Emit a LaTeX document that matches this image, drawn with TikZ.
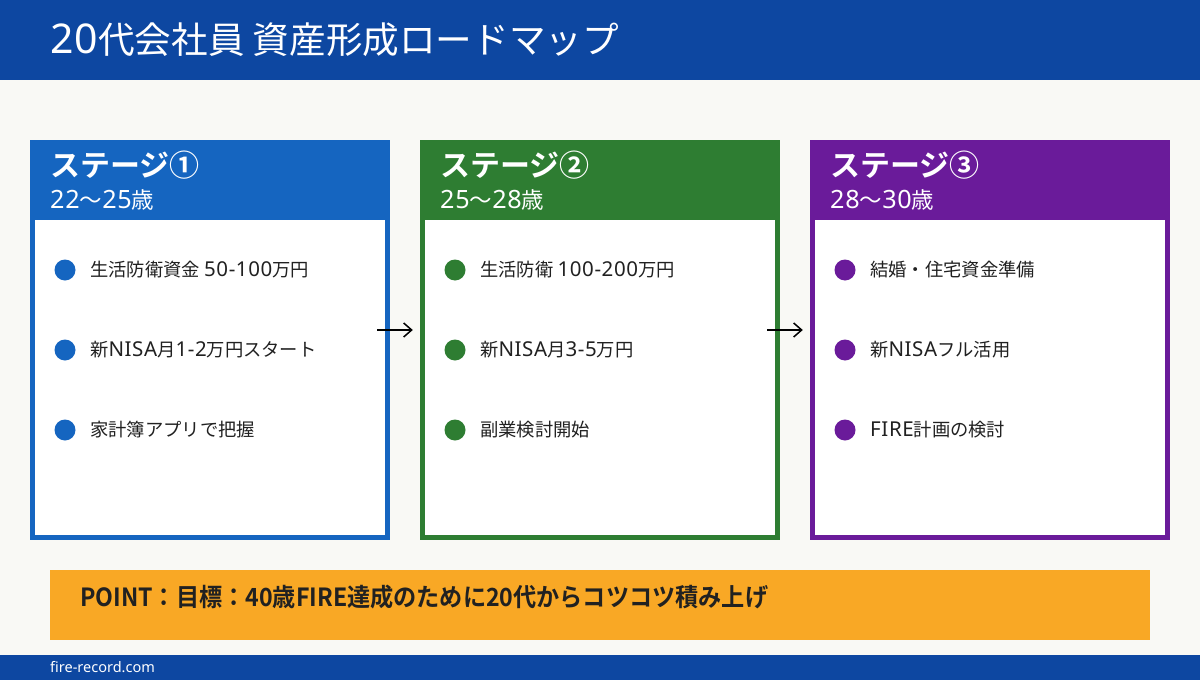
\documentclass[tikz,border=0pt]{standalone}
\usepackage{fontspec}
\setmainfont{Noto Sans CJK JP}[BoldFont={Noto Sans CJK JP Bold}]
\newfontfamily\lat{Noto Sans}[Scale=1.12, LetterSpace=3]
\newfontfamily\footfont{Noto Sans}
\usetikzlibrary{arrows.meta,calc}
\definecolor{topblue}{HTML}{0D47A1}
\definecolor{sblue}{HTML}{1565C0}
\definecolor{sgreen}{HTML}{2E7D32}
\definecolor{spurple}{HTML}{6A1B9A}
\definecolor{porange}{HTML}{F9A825}
\definecolor{bgc}{HTML}{F9F9F5}
\definecolor{txt}{HTML}{212121}
\newcommand{\lt}[1]{{\lat #1}}
\tikzset{
  txtnode/.style={inner sep=0pt, anchor=west},
  stagebox/.style={fill=#1, minimum width=360pt, minimum height=400pt, inner sep=0pt, draw=none},
  stagetitle/.style={txtnode, text=white, font=\bfseries\fontsize{30}{36}\selectfont},
  stageage/.style={txtnode, text=white, font=\fontsize{22.5}{26}\selectfont},
  dot/.style={circle, fill=#1, minimum size=21pt, inner sep=0pt, draw=none},
  item/.style={txtnode, text=txt, font=\fontsize{18.3}{22}\selectfont},
  flow/.style={-{Straight Barb[length=8pt,width=14pt,line width=1.5pt]}, line width=1.5pt, black},
}
\begin{document}
\begin{tikzpicture}[x=1pt,y=-1pt]
\useasboundingbox (0,0) rectangle (1200,680);
\fill[bgc] (0,0) rectangle (1200,680);
% top bar
\fill[topblue] (0,0) rectangle (1200,80);
\node[txtnode, text=white, font=\fontsize{36.6}{40}\selectfont] (title) at (50,40) {\lt{20}代会社員 資産形成ロードマップ};

% stage boxes
\foreach \n/\x/\c in {1/210/sblue, 2/600/sgreen, 3/990/spurple} {
  \node[stagebox=\c] (s\n) at (\x,340) {};
  \fill[white] ($(s\n.south west)+(5,-5)$) rectangle ($(s\n.north east)+(-5,80)$);
}

% stage 1
\node[stagetitle] (t1) at (50,165) {ステージ①};
\node[stageage] (a1) at (50,200) {\lt{22}〜\lt{25}歳};
\node[dot=sblue] (d11) at (65,270) {};
\node[item] (i11) at (90,270) {生活防衛資金 \lt{50-100}万円};
\node[dot=sblue] (d12) at (65,350) {};
\node[item] (i12) at (90,350) {新\lt{NISA}月\lt{1-2}万円スタート};
\node[dot=sblue] (d13) at (65,430) {};
\node[item] (i13) at (90,430) {家計簿アプリで把握};

% stage 2
\node[stagetitle] (t2) at (440,165) {ステージ②};
\node[stageage] (a2) at (440,200) {\lt{25}〜\lt{28}歳};
\node[dot=sgreen] (d21) at (455,270) {};
\node[item] (i21) at (480,270) {生活防衛 \lt{100-200}万円};
\node[dot=sgreen] (d22) at (455,350) {};
\node[item] (i22) at (480,350) {新\lt{NISA}月\lt{3-5}万円};
\node[dot=sgreen] (d23) at (455,430) {};
\node[item] (i23) at (480,430) {副業検討開始};

% stage 3
\node[stagetitle] (t3) at (830,165) {ステージ③};
\node[stageage] (a3) at (830,200) {\lt{28}〜\lt{30}歳};
\node[dot=spurple] (d31) at (845,270) {};
\node[item] (i31) at (870,270) {結婚・住宅資金準備};
\node[dot=spurple] (d32) at (845,350) {};
\node[item] (i32) at (870,350) {新\lt{NISA}フル活用};
\node[dot=spurple] (d33) at (845,430) {};
\node[item] (i33) at (870,430) {\lt{FIRE}計画の検討};

% arrows
\draw[flow] ($(s1.east)+(-13,-10)$) -- ($(s2.west)+(-7,-10)$);
\draw[flow] ($(s2.east)+(-13,-10)$) -- ($(s3.west)+(-7,-10)$);

% point bar
\node[fill=porange, minimum width=1100pt, minimum height=70pt, inner sep=0pt] (pt) at (600,605) {};
\node[txtnode, text=txt, font=\bfseries\fontsize{25}{30}\selectfont] (ptxt) at (80,597) {\resizebox{688pt}{\height}{POINT：目標：40歳FIRE達成のために20代からコツコツ積み上げ}};

% footer
\fill[topblue] (0,655) rectangle (1200,680);
\node[txtnode, text=white, font=\footfont\fontsize{14.5}{16}\selectfont] (foot) at (50,667.5) {fire-record.com};
\end{tikzpicture}
\end{document}
